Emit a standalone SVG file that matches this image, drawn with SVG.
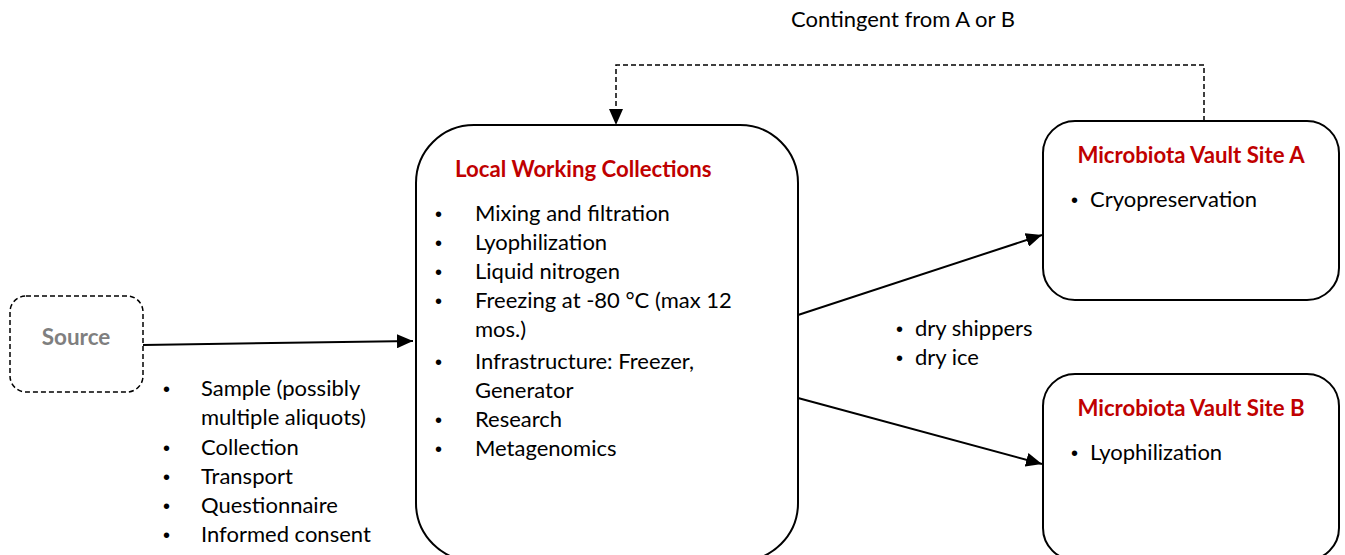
<svg xmlns="http://www.w3.org/2000/svg" width="1345" height="555" viewBox="0 0 1345 555">
<style>
.box{fill:#fff;stroke:#000;stroke-width:2}
.dbox{fill:#fff;stroke:#000;stroke-width:1.5;stroke-dasharray:5 3}
.t{font-family:Lato,"Liberation Sans",sans-serif;font-size:22px;fill:#000}
.b{font-family:"Liberation Sans",sans-serif;font-size:20px;fill:#000}
.h{font-family:Lato,"Liberation Sans",sans-serif;font-size:22.2px;font-weight:bold;fill:#c00000}
.src{font-family:Lato,"Liberation Sans",sans-serif;font-size:22.5px;font-weight:bold;fill:#7f7f7f}
.c{stroke:#000;stroke-width:2;fill:none}
.cd{stroke:#000;stroke-width:1.5;fill:none;stroke-dasharray:5 3}
</style>
<defs>
<marker id="ah2" markerWidth="16" markerHeight="14" refX="16" refY="7" orient="auto" markerUnits="userSpaceOnUse" viewBox="0 0 16 14">
<path d="M0,0 L16,7 L0,14 z" fill="#000"/>
</marker>
</defs>
<g id="connectors">
<line class="c" x1="143" y1="345" x2="413" y2="341" marker-end="url(#ah2)"/>
<line class="c" x1="798" y1="315" x2="1042" y2="235" marker-end="url(#ah2)"/>
<line class="c" x1="798" y1="398" x2="1042" y2="464" marker-end="url(#ah2)"/>
<polyline class="cd" points="1204,121 1204,65 616,65 616,125" marker-end="url(#ah2)"/>
<text class="t" x="903" y="27" text-anchor="middle">Contingent from A or B</text>
<text class="b" x="896" y="336">•</text>
<text class="t" x="915" y="336">dry shippers</text>
<text class="b" x="896" y="365">•</text>
<text class="t" x="915" y="365">dry ice</text>
<g>
<text class="b" x="163" y="396">•</text><text class="t" x="201" y="396">Sample (possibly</text>
<text class="t" x="201" y="425">multiple aliquots)</text>
<text class="b" x="163" y="455">•</text><text class="t" x="201" y="455">Collection</text>
<text class="b" x="163" y="484">•</text><text class="t" x="201" y="484">Transport</text>
<text class="b" x="163" y="513">•</text><text class="t" x="201" y="513">Questionnaire</text>
<text class="b" x="163" y="542">•</text><text class="t" x="201" y="542">Informed consent</text>
</g>
</g>
<g id="source">
<rect class="dbox" x="10" y="296" width="133" height="96" rx="16"/>
<text class="src" x="76" y="345" text-anchor="middle">Source</text>
</g>
<g id="local">
<rect class="box" x="416" y="125" width="382" height="436" rx="58"/>
<text class="h" x="455" y="177">Local Working Collections</text>
<text class="b" x="435" y="221">•</text><text class="t" x="475" y="221">Mixing and filtration</text>
<text class="b" x="435" y="250">•</text><text class="t" x="475" y="250">Lyophilization</text>
<text class="b" x="435" y="279">•</text><text class="t" x="475" y="279">Liquid nitrogen</text>
<text class="b" x="435" y="308">•</text><text class="t" x="475" y="308">Freezing at -80 °C (max 12</text>
<text class="t" x="475" y="337">mos.)</text>
<text class="b" x="435" y="369">•</text><text class="t" x="475" y="369">Infrastructure: Freezer,</text>
<text class="t" x="475" y="398">Generator</text>
<text class="b" x="435" y="427">•</text><text class="t" x="475" y="427">Research</text>
<text class="b" x="435" y="456">•</text><text class="t" x="475" y="456">Metagenomics</text>
</g>
<g id="siteA">
<rect class="box" x="1043" y="121" width="296" height="179" rx="32"/>
<text class="h" x="1191" y="163" text-anchor="middle">Microbiota Vault Site A</text>
<text class="b" x="1071" y="207">•</text><text class="t" x="1090" y="207">Cryopreservation</text>
</g>
<g id="siteB">
<rect class="box" x="1043" y="374" width="296" height="186" rx="32"/>
<text class="h" x="1191" y="416" text-anchor="middle">Microbiota Vault Site B</text>
<text class="b" x="1071" y="460">•</text><text class="t" x="1090" y="460">Lyophilization</text>
</g>
</svg>
